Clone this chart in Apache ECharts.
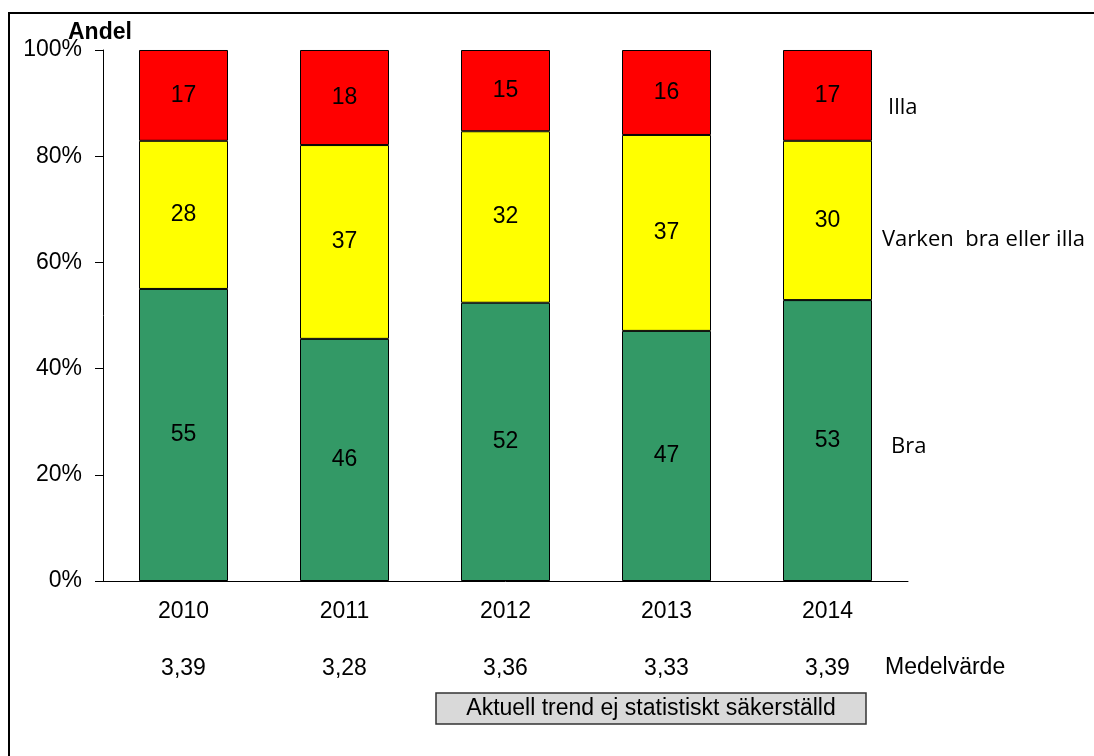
<!DOCTYPE html>
<html>
<head>
<meta charset="utf-8">
<script src="https://cdn.jsdelivr.net/npm/echarts@6/dist/echarts.min.js"></script>
<style>
html,body{margin:0;padding:0;background:#fff;}
#c{width:1094px;height:756px;}
</style>
</head>
<body>
<div id="c"></div>
<script>
var years = ['2010', '2011', '2012', '2013', '2014'];
var meanValues = ['3,39', '3,28', '3,36', '3,33', '3,39'];
var bra = [55.0, 45.6, 52.4, 47.1, 52.9];
var varken = [27.9, 36.5, 32.3, 36.9, 30.0];
var illa = [17.1, 17.9, 15.3, 16.0, 17.1];
var yTicks = [0, 20, 40, 60, 80, 100];

var FONT = '"Liberation Sans", Arial, sans-serif';
var FS = 23;
var chart = echarts.init(document.getElementById('c'), null, {renderer: 'canvas'});

function seriesOf(name, data, color) {
  return {
    name: name,
    type: 'bar',
    stack: 'total',
    data: data,
    barWidth: 89,
    itemStyle: {color: color, borderColor: '#000', borderWidth: 1},
    label: {
      show: true,
      position: 'inside',
      color: '#000',
      fontFamily: FONT,
      fontSize: FS,
      formatter: function (p) { return Math.round(p.value); }
    },
    emphasis: {disabled: true}
  };
}

chart.setOption({
  animation: false,
  backgroundColor: '#fff',
  grid: {left: 103, right: 186, top: 50, bottom: 175},
  xAxis: [{
    type: 'category',
    data: years,
    position: 'bottom',
    axisLine: {lineStyle: {color: '#000', width: 1}},
    axisTick: {show: false},
    axisLabel: {color: '#000', fontFamily: FONT, fontSize: FS, margin: 19}
  }, {
    type: 'category',
    data: meanValues,
    position: 'bottom',
    offset: 57,
    axisLine: {show: false},
    axisTick: {show: false},
    axisLabel: {color: '#000', fontFamily: FONT, fontSize: FS, margin: 19}
  }],
  yAxis: {
    type: 'value',
    min: yTicks[0],
    max: yTicks[yTicks.length - 1],
    interval: 20,
    splitLine: {show: false},
    axisLine: {show: true, lineStyle: {color: '#000', width: 1}},
    axisTick: {show: true, inside: false, length: 8, lineStyle: {color: '#000'}},
    axisLabel: {color: '#000', fontFamily: FONT, fontSize: FS, margin: 21, formatter: '{value}%'}
  },
  series: [
    seriesOf('Bra', bra, '#339966'),
    seriesOf('Varken bra eller illa', varken, '#ffff00'),
    seriesOf('Illa', illa, '#ff0000')
  ],
  graphic: [
    {type: 'rect', shape: {x: 9, y: 13, width: 1300, height: 900},
     style: {fill: 'none', stroke: '#000', lineWidth: 2}, z: 100, silent: true},
    {type: 'text', x: 68, y: 33,
     style: {text: 'Andel', fontFamily: FONT, fontWeight: 'bold', fontSize: 23, fill: '#000', verticalAlign: 'middle'}},
    {type: 'text', x: 888, y: 108,
     style: {text: 'Illa', fontFamily: '"Open Sans", sans-serif', fontSize: 22, fill: '#000', verticalAlign: 'middle'}},
    {type: 'text', x: 882, y: 240,
     style: {text: 'Varken  bra eller illa', fontFamily: '"Open Sans", sans-serif', fontSize: 22, fill: '#000', verticalAlign: 'middle'}},
    {type: 'text', x: 891, y: 447,
     style: {text: 'Bra', fontFamily: '"Open Sans", sans-serif', fontSize: 22, fill: '#000', verticalAlign: 'middle'}},
    {type: 'text', x: 885, y: 668,
     style: {text: 'Medelvärde', fontFamily: FONT, fontSize: FS, fill: '#000', verticalAlign: 'middle'}},
    {type: 'rect', shape: {x: 436, y: 693, width: 430, height: 31},
     style: {fill: '#d9d9d9', stroke: '#333', lineWidth: 1.5}},
    {type: 'text', x: 651, y: 709,
     style: {text: 'Aktuell trend ej statistiskt säkerställd', fontFamily: FONT, fontSize: 23, fill: '#000', align: 'center', verticalAlign: 'middle'}}
  ]
});
</script>
</body>
</html>
